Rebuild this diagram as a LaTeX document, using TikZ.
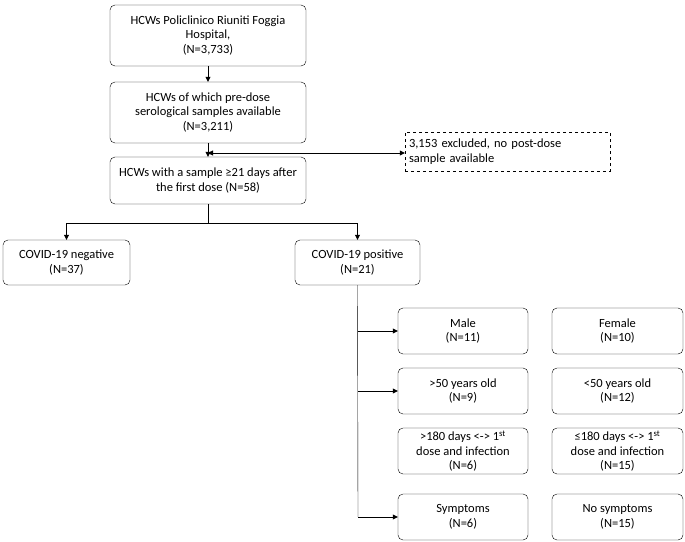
\documentclass[tikz,border=0pt]{standalone}
\usepackage{fontspec}
\setmainfont{Carlito}
\usetikzlibrary{arrows.meta}
\begin{document}
\begin{tikzpicture}[x=1pt,y=-1pt,
  bx/.style={draw,rounded corners=5pt,align=center,font=\fontsize{12.5}{14.5}\selectfont,inner sep=1pt},
  ar/.style={-{Triangle[length=5pt,width=5pt]}}]
\useasboundingbox (0,0) rectangle (685,541);
\node[bx,minimum width=196pt,minimum height=61pt] (a) at (208,35.5) {HCWs Policlinico Riuniti Foggia\\Hospital,\\(N=3,733)};
\node[bx,minimum width=196pt,minimum height=61pt] (b) at (208,112.5) {HCWs of which pre-dose\\serological samples available\\(N=3,211)};
\node[bx,minimum width=196pt,minimum height=47pt] (c) at (208,180.5) {HCWs with a sample ≥21 days after\\the first dose (N=58)};
\node[draw,dashed,align=left,font=\fontsize{12.5}{14.5}\selectfont,minimum width=205pt,minimum height=39pt,text width=197pt] (d) at (507.5,151.5) {3,153 excluded, no post-dose\\sample available};
\node[bx,minimum width=127pt,minimum height=45pt] (n) at (66.5,262.5) {COVID-19 negative\\(N=37)};
\node[bx,minimum width=125pt,minimum height=45pt] (p) at (357.5,262.5) {COVID-19 positive\\(N=21)};
\foreach \nm/\y/\ta/\tb in {m/331/{Male\\(N=11)}/{Female\\(N=10)},
  o/391/{>50 years old\\(N=9)}/{<50 years old\\(N=12)},
  t/451/{>180 days <-> 1\textsuperscript{st}\\dose and infection\\(N=6)}/{≤180 days <-> 1\textsuperscript{st}\\dose and infection\\(N=15)},
  s/517/{Symptoms\\(N=6)}/{No symptoms\\(N=15)}}{
  \node[bx,minimum width=130pt,minimum height=46pt] (\nm1) at (463,\y) {\ta};
  \node[bx,minimum width=131pt,minimum height=46pt] (\nm2) at (617.5,\y) {\tb};
}
\coordinate (t1) at (208,153);
\coordinate (j) at (208,223);
\draw[ar] (a) -- (b);
\draw[ar] (b) -- (c);
\draw[ar] (t1) -- (d.west |- t1);
\draw (c) -- (j);
\draw[ar] (j) -| (n);
\draw[ar] (j) -| (p);
\coordinate (v) at (358,517);
\draw (p.south) -- (v);
\foreach \nm in {m,o,t,s}{\draw[ar] (v |- \nm1.west) -- (\nm1.west);}
\end{tikzpicture}
\end{document}
